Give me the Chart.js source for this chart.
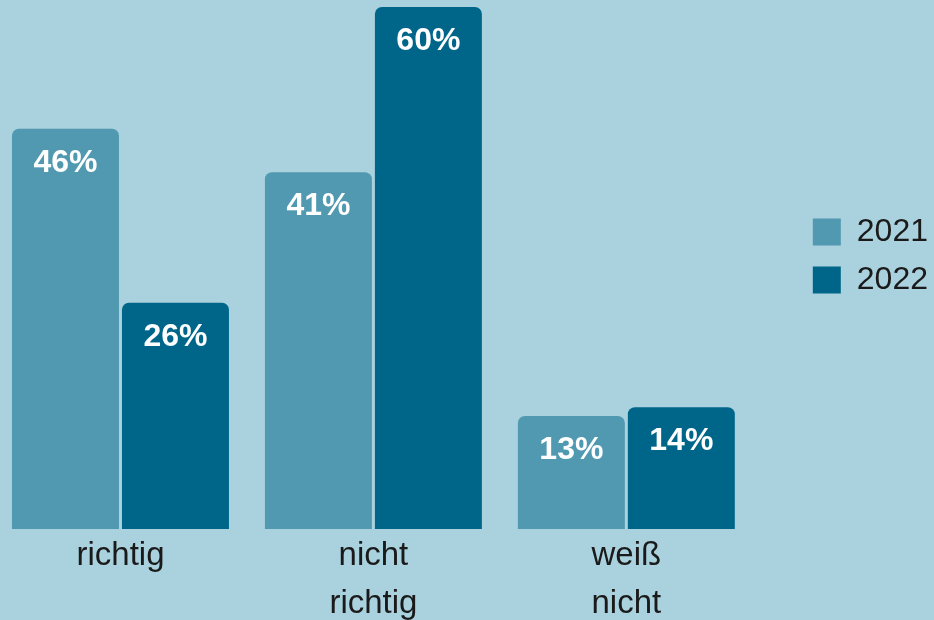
<!DOCTYPE html>
<html>
<head>
<meta charset="utf-8">
<script src="https://cdn.jsdelivr.net/npm/chart.js@4/dist/chart.umd.min.js"></script>
<style>
  html, body { margin: 0; padding: 0; background: #a9d1de; overflow: hidden; width: 934px; height: 620px; }
  #c { position: absolute; left: -6px; top: 0; }
</style>
</head>
<body>
<canvas id="c" width="940" height="620"></canvas>
<script>
const categories = ['richtig', ['nicht', 'richtig'], ['weiß', 'nicht']];
const seriesNames = ['2021', '2022'];
const values2021 = [46, 41, 13];
const values2022 = [26, 60, 14];
const colors = ['#5199b1', '#006689'];

const valueLabels = {
  id: 'valueLabels',
  afterDatasetsDraw(chart) {
    const ctx = chart.ctx;
    ctx.save();
    ctx.font = 'bold 32px "Liberation Sans", Arial, sans-serif';
    ctx.fillStyle = '#ffffff';
    ctx.textAlign = 'center';
    ctx.textBaseline = 'middle';
    chart.data.datasets.forEach((ds, i) => {
      chart.getDatasetMeta(i).data.forEach((bar, j) => {
        ctx.fillText(ds.data[j] + '%', bar.x, bar.y + 34);
      });
    });
    ctx.restore();
  }
};

new Chart(document.getElementById('c'), {
  type: 'bar',
  data: {
    labels: categories,
    datasets: [
      { label: seriesNames[0], data: values2021, backgroundColor: colors[0] },
      { label: seriesNames[1], data: values2022, backgroundColor: colors[1] }
    ]
  },
  options: {
    responsive: false,
    animation: false,
    categoryPercentage: 0.8696,
    barPercentage: 0.9727,
    datasets: { bar: { borderRadius: 7, borderSkipped: 'bottom' } },
    layout: { padding: { top: 7, left: 0, right: -4, bottom: 0 } },
    scales: {
      x: {
        grid: { display: false, drawTicks: false },
        border: { display: false },
        ticks: {
          autoSkip: false, maxRotation: 0, padding: 3,
          color: '#1a1a1a',
          font: { family: '"Liberation Sans", Arial, sans-serif', size: 33, lineHeight: 1.45 }
        },
        afterFit: (s) => { s.height = 91; }
      },
      y: {
        position: 'right',
        min: 0, max: 60,
        grid: { display: false, drawTicks: false },
        border: { display: false },
        ticks: { display: false },
        afterFit: (s) => { s.width = 44; }
      }
    },
    plugins: {
      tooltip: { enabled: false },
      legend: {
        position: 'right',
        align: 'start',
        title: { display: true, text: ' ', font: { size: 10, lineHeight: 1 }, padding: { top: 0, bottom: 183 } },
        labels: {
          boxWidth: 28, boxHeight: 27, padding: 16,
          color: '#1a1a1a',
          font: { family: '"Liberation Sans", Arial, sans-serif', size: 32 }
        }
      }
    }
  },
  plugins: [valueLabels]
});
</script>
</body>
</html>
